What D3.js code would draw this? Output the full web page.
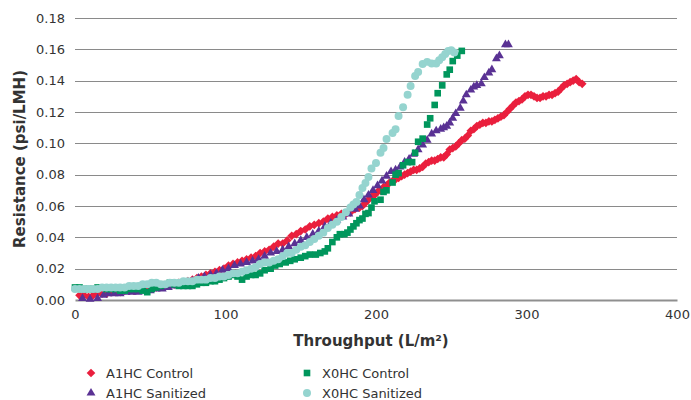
<!DOCTYPE html>
<html>
<head>
<meta charset="utf-8">
<script src="https://cdn.jsdelivr.net/npm/d3@7"></script>
<style>
  html, body { margin: 0; padding: 0; background: #fff; }
  svg { display: block; font-family: "DejaVu Sans", Verdana, sans-serif; }
</style>
</head>
<body>
<svg id="chart" width="691" height="400"></svg>
<script>
// ---- Data ----
const xTicks = [0, 100, 200, 300, 400];
const yTicks = [0, 0.02, 0.04, 0.06, 0.08, 0.10, 0.12, 0.14, 0.16, 0.18];
const seriesNames = ["A1HC Control", "X0HC Control", "A1HC Sanitized", "X0HC Sanitized"];

const a1hcControl = [
  [3,.003],[6,.003],[9,.002],[12,.003],[15,.004],[18,.004],[21,.004],[24,.005],[27,.005],[30,.005],
  [33,.006],[36,.006],[39,.006],[42,.007],[45,.007],[48,.008],[51,.008],[54,.008],[57,.009],[60,.009],
  [63,.010],[66,.010],[69,.011],[72,.011],[75,.012],[78,.013],[81,.014],[84,.015],[87,.016],[90,.017],
  [93,.018],[96,.019],[99,.020],[102,.022],[105,.023],[108,.024],[111,.025],[114,.026],[117,.027],[120,.028],
  [123,.030],[126,.031],[129,.032],[132,.034],[135,.036],[138,.036],[141,.038],[144,.041],[147,.042],[150,.044],
  [153,.045],[156,.047],[159,.048],[162,.049],[165,.050],[168,.052],[171,.053],[174,.054],[177,.055],[180,.055],
  [183,.056],[186,.058],[189,.059],[191,.060],[193,.062],[195,.064],[197,.066],[199,.067],[201,.069],[203,.070],
  [205,.072],[207,.073],[209,.075],[211,.076],[213,.077],[215,.078],[217,.079],[219,.080],[221,.081],[223,.082],
  [225,.083],[227,.083],[229,.084],[231,.085],[233,.087],[235,.088],[237,.089],[239,.089],[241,.090],[243,.091],
  [245,.091],[247,.093],[249,.096],[251,.097],[253,.098],[255,.100],[257,.102],[259,.103],[261,.105],[263,.108],
  [265,.109],[267,.111],[269,.112],[271,.113],[273,.113],[275,.114],[277,.114],[279,.115],[281,.116],[283,.117],
  [285,.118],[287,.120],[289,.122],[291,.124],[293,.126],[295,.127],[297,.128],[299,.130],[301,.131],[303,.131],
  [305,.130],[307,.129],[309,.129],[311,.130],[313,.130],[315,.131],[317,.131],[319,.132],[321,.133],[323,.135],
  [325,.137],[327,.138],[329,.139],[331,.140],[333,.141],[335,.139],[337,.138]
];

const a1hcSanitized = [
  [5,.001],[10,.0005],[15,.001],[19,.003],[22,.004],[26,.004],[30,.004],[34,.005],[38,.005],[42,.005],
  [46,.006],[50,.006],[54,.007],[58,.007],[62,.008],[66,.009],[70,.010],[74,.011],[78,.012],[82,.014],
  [86,.015],[90,.016],[94,.017],[98,.019],[102,.020],[106,.022],[110,.023],[114,.024],[118,.025],[122,.026],
  [126,.028],[130,.030],[134,.031],[138,.032],[142,.034],[146,.036],[150,.038],[154,.040],[158,.042],[162,.044],
  [166,.047],[170,.049],[174,.051],[178,.053],[182,.055],[186,.058],[189,.060],[192,.064],[195,.067],[198,.070],
  [201,.073],[204,.076],[207,.079],[210,.082],[213,.083],[216,.085],[219,.088],[222,.090],[225,.093],[228,.096],
  [231,.099],[234,.102],[237,.106],[240,.108],[243,.109],[245,.110],[247,.111],[249,.113],[251,.116],[253,.119],
  [256,.1225],[258,.127],[260,.131],[263,.134],[265,.136],[267,.137],[270,.138],[272,.142],[275,.145],[277,.147],
  [280,.154],[282,.156],[286,.163],[288,.163]
];

const x0hcControl = [
  [0,.008],[3,.008],[6,.007],[9,.007],[12,.007],[15,.008],[18,.008],[21,.007],[24,.007],[27,.007],
  [30,.006],[33,.006],[36,.007],[39,.007],[42,.007],[45,.006],[48,.005],[51,.007],[54,.008],[57,.009],
  [60,.010],[63,.011],[66,.010],[69,.009],[72,.009],[75,.009],[78,.009],[81,.010],[84,.011],[87,.011],
  [90,.012],[93,.012],[96,.013],[99,.014],[102,.015],[105,.016],[108,.015],[111,.013],[114,.015],[117,.016],
  [120,.016],[123,.017],[126,.019],[130,.020],[133,.022],[136,.023],[140,.024],[143,.025],[146,.026],[150,.027],
  [153,.028],[156,.029],[160,.029],[163,.030],[166,.031],[168,.033],[171,.037],[174,.040],[176,.042],[179,.042],
  [181,.043],[183,.045],[185,.047],[187,.049],[189,.051],[191,.052],[193,.055],[195,.0555],[197,.059],[199,.063],
  [203,.064],[205,.069],[207,.070],[211,.075],[213,.080],[215,.081],[218,.086],[221,.088],[224,.088],[226,.094],
  [228,.101],[231,.103],[234,.112],[236,.116],[239,.1245],[241,.132],[244,.137],[247,.144],[249,.147],[251,.1525],
  [254,.156],[257,.159]
];

const x0hcSanitized = [
  [0,.007],[3,.007],[6,.007],[9,.007],[12,.007],[15,.007],[18,.008],[21,.008],[24,.008],[27,.008],
  [30,.008],[33,.008],[36,.009],[39,.009],[42,.009],[45,.010],[48,.010],[51,.011],[54,.011],[57,.010],
  [60,.010],[63,.011],[66,.011],[69,.011],[72,.012],[75,.012],[78,.012],[81,.013],[84,.013],[87,.013],
  [90,.014],[93,.014],[96,.015],[99,.015],[102,.016],[105,.017],[108,.017],[111,.018],[114,.019],[117,.020],
  [120,.021],[123,.023],[126,.024],[129,.024],[132,.025],[135,.026],[138,.028],[141,.030],[144,.030],[147,.032],
  [150,.034],[153,.035],[156,.037],[159,.039],[162,.041],[165,.043],[168,.046],[171,.048],[174,.050],[177,.053],
  [180,.056],[183,.059],[185,.061],[187,.0625],[189,.067],[191,.0715],[193,.0747],[195,.0785],[197,.084],[200,.0874],
  [203,.094],[205,.097],[207,.1028],[211,.1066],[213,.109],[215,.1175],[218,.123],[221,.131],[223,.1366],[226,.143],
  [228,.1455],[231,.1506],[234,.152],[237,.151],[240,.151],[242,.153],[244,.155],[246,.157],[248,.159],[250,.1595],
  [252,.158]
];

// ---- Styles ----
const series = [
  { name: seriesNames[0], data: a1hcControl,   color: "#ea1f3d", symbol: d3.symbolSquare,   size: 38, rotate: 45 },
  { name: seriesNames[2], data: a1hcSanitized, color: "#5a3294", symbol: d3.symbolTriangle, size: 34, rotate: 0 },
  { name: seriesNames[1], data: x0hcControl,   color: "#00965c", symbol: d3.symbolSquare,   size: 44, rotate: 0 },
  { name: seriesNames[3], data: x0hcSanitized, color: "#95d4cf", symbol: d3.symbolCircle,   size: 50, rotate: 0 }
];

const svg = d3.select("#chart");

const x = d3.scaleLinear().domain([0, 400]).range([75, 677]);
const y = d3.scaleLinear().domain([0, 0.18]).range([300, 18]);

// gridlines
svg.append("g").selectAll("line").data(yTicks.filter(d => d > 0)).join("line")
  .attr("x1", x(0)).attr("x2", x(400))
  .attr("y1", d => Math.round(y(d)) + 0.5).attr("y2", d => Math.round(y(d)) + 0.5)
  .attr("stroke", "#8a8a8a").attr("stroke-width", 1);

// y axis labels
const yAxis = d3.axisLeft(y).tickValues(yTicks).tickFormat(d3.format(".2f")).tickSize(0).tickPadding(10);
const gy = svg.append("g").attr("transform", `translate(${x(0)},0)`).call(yAxis);
gy.select(".domain").remove();
gy.selectAll("text").attr("font-size", 13).attr("fill", "#333").attr("font-family", "DejaVu Sans, Verdana, sans-serif");

// x axis
const xAxis = d3.axisBottom(x).tickValues(xTicks).tickFormat(d3.format("d")).tickSize(0).tickPadding(10);
const gx = svg.append("g").attr("transform", `translate(0,${y(0)})`).call(xAxis);
gx.select(".domain").attr("stroke", "#8f8f8f").attr("stroke-width", 2);
gx.selectAll("text").attr("font-size", 13).attr("fill", "#333").attr("font-family", "DejaVu Sans, Verdana, sans-serif");

// axis titles
svg.append("text")
  .attr("x", 371).attr("y", 346)
  .attr("text-anchor", "middle")
  .attr("font-size", 15).attr("font-weight", "bold").attr("fill", "#333")
  .text("Throughput (L/m²)");

svg.append("text")
  .attr("transform", `translate(25,${(18 + 300) / 2}) rotate(-90)`)
  .attr("text-anchor", "middle")
  .attr("font-size", 15).attr("font-weight", "bold").attr("fill", "#333")
  .text("Resistance (psi/LMH)");

// points
const plot = svg.append("g");
series.forEach(s => {
  const sym = d3.symbol().type(s.symbol).size(s.size);
  plot.append("g").selectAll("path").data(s.data).join("path")
    .attr("d", sym)
    .attr("transform", d => `translate(${x(d[0])},${y(d[1])}) rotate(${s.rotate})`)
    .attr("fill", s.color);
});

// legend
const legendItems = [
  { s: series[0], lx: 91,  ly: 373 },
  { s: series[2], lx: 307, ly: 373 },
  { s: series[1], lx: 91,  ly: 393 },
  { s: series[3], lx: 307, ly: 393 }
];
const lg = svg.append("g");
legendItems.forEach(it => {
  lg.append("path")
    .attr("d", d3.symbol().type(it.s.symbol).size(it.s.size)())
    .attr("transform", `translate(${it.lx},${it.ly}) rotate(${it.s.rotate})`)
    .attr("fill", it.s.color);
  lg.append("text")
    .attr("x", it.lx + 15).attr("y", it.ly)
    .attr("dy", "0.35em")
    .attr("font-size", 13).attr("fill", "#333")
    .text(it.s.name);
});
</script>
</body>
</html>
